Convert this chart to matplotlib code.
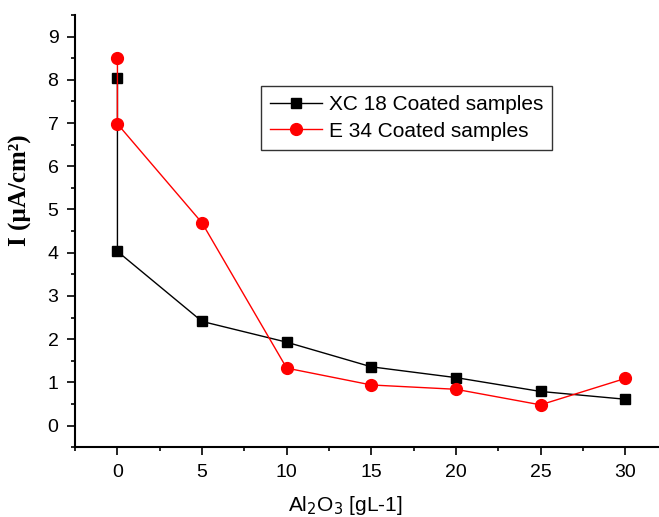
import matplotlib.pyplot as plt
from matplotlib.ticker import MultipleLocator

# Data
xc18_x = [0, 0, 5, 10, 15, 20, 25, 30]
xc18_y = [8.05, 4.03, 2.41, 1.93, 1.36, 1.11, 0.79, 0.61]
e34_x = [0, 0, 5, 10, 15, 20, 25, 30]
e34_y = [8.5, 6.98, 4.69, 1.33, 0.94, 0.84, 0.48, 1.09]

plt.rcParams['font.family'] = ['Liberation Sans', 'DejaVu Sans']

fig = plt.figure(figsize=(6.59, 5.17), dpi=100)
ax = fig.add_axes([0.114, 0.135, 0.886, 0.836])

ax.plot(xc18_x, xc18_y, color="black", lw=1, marker="s", ms=7,
        label="XC 18 Coated samples")
ax.plot(e34_x, e34_y, color="red", lw=1, marker="o", ms=8.5,
        label="E 34 Coated samples")

ax.set_xlim(-2.5, 32)
ax.set_ylim(-0.5, 9.5)
ax.xaxis.set_major_locator(MultipleLocator(5))
ax.xaxis.set_minor_locator(MultipleLocator(2.5))
ax.yaxis.set_major_locator(MultipleLocator(1))
ax.yaxis.set_minor_locator(MultipleLocator(0.5))
ax.tick_params(which="major", direction="out", length=6, width=1.2,
               labelsize=14, pad=6)
ax.tick_params(which="minor", direction="out", length=3, width=1.2)

for s in ["top", "right"]:
    ax.spines[s].set_visible(False)
for s in ["left", "bottom"]:
    ax.spines[s].set_linewidth(1.5)

ax.set_xlabel("Al$_2$O$_3$ [gL-1]", fontsize=15, va="center")
ax.set_ylabel("I (µA/cm²)", fontsize=18, fontweight="bold", va="center",
              family=["Liberation Serif", "DejaVu Serif"])
ax.xaxis.set_label_coords(0.462, -0.134)
ax.yaxis.set_label_coords(-0.094, 0.595)

leg = ax.legend(loc="upper left", bbox_to_anchor=(0.318, 0.836), fontsize=15,
                frameon=True, fancybox=False, borderpad=0.45,
                labelspacing=0.35, handlelength=2.5, handletextpad=0.3,
                borderaxespad=0)
leg.get_frame().set_edgecolor("black")
leg.get_frame().set_linewidth(1)

fig.savefig("out.png", dpi=100)
